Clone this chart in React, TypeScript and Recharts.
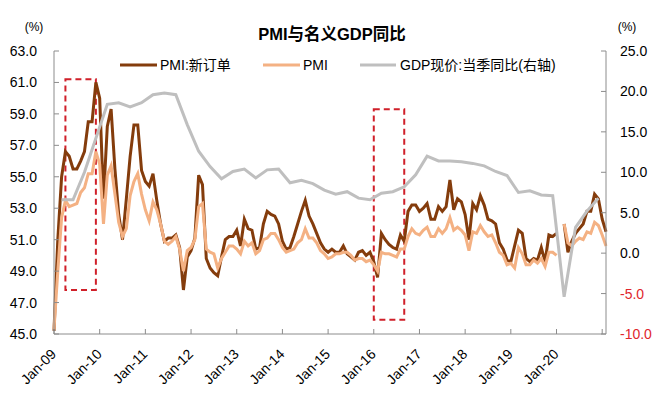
import { LineChart, Line, XAxis, YAxis, ReferenceArea } from "recharts";

const monthNames = ["Jan", "Feb", "Mar", "Apr", "May", "Jun", "Jul", "Aug", "Sep", "Oct", "Nov", "Dec"];
const years = ["09", "10", "11", "12", "13", "14", "15", "16", "17", "18", "19", "20", "21"];
const months: string[] = years.flatMap((y) => monthNames.map((m) => `${m}-${y}`)).slice(0, 146);

// PMI:新订单 (monthly)
const newOrders: (number | null)[] = [
  45.2, 51.0, 55.0, 56.6, 56.3, 55.5, 55.5, 56.0, 56.6, 58.5, 58.5, 61.0,
  60.0, 53.6, 58.2, 59.3, 55.5, 52.6, 51.0, 53.6, 56.3, 58.3, 58.3, 55.4,
  54.7, 54.4, 55.2, 53.5, 52.0, 50.9, 51.1, 51.1, 51.3, 50.5, 47.8, 49.9,
  50.3, 51.1, 55.1, 54.5, 49.8, 49.2, 48.9, 48.7, 49.9, 51.0, 51.2, 51.2,
  51.6, 50.6, 52.3, 51.7, 51.6, 50.4, 50.5, 52.0, 52.8, 52.6, 52.5, 52.0,
  50.9, 50.4, 50.5, 51.2, 52.0, 52.8, 53.5, 52.5, 52.0, 51.4, 50.8, 50.4,
  50.2, 50.4, 50.2, 50.2, 50.6, 50.1, 49.9, 49.7, 50.2, 50.3, 50.0, 50.2,
  49.6, 48.6, 51.4, 51.0, 50.7, 50.5, 50.4, 51.3, 50.9, 52.8, 53.2, 53.2,
  52.8, 53.0, 53.3, 52.3, 52.3, 53.1, 52.8, 53.1, 54.8, 52.9, 53.6, 53.4,
  52.6, 51.0, 53.3, 52.9, 53.8, 53.2, 52.3, 52.2, 52.0, 50.8, 50.4, 49.7,
  49.6, 50.6, 51.6, 51.4, 49.8, 49.6, 49.8, 49.7, 50.5, 49.6, 51.3, 51.2,
  51.4, null, 52.0, 50.2, 50.9, 51.4, 51.7, 52.0, 52.8, 52.8, 53.9, 53.6,
  52.3, 51.5,
];

// PMI (monthly)
const pmi: (number | null)[] = [
  45.3, 49.0, 52.4, 53.5, 53.1, 53.2, 53.3, 54.0, 54.3, 55.2, 55.2, 56.6,
  55.8, 52.0, 55.1, 55.7, 53.9, 52.1, 51.2, 51.7, 53.8, 54.7, 55.2, 53.9,
  52.9, 52.2, 53.4, 52.9, 52.0, 50.9, 50.7, 50.9, 51.2, 50.4, 49.0, 50.3,
  50.5, 51.0, 53.1, 53.3, 50.4, 50.2, 50.1, 49.2, 49.8, 50.2, 50.6, 50.6,
  50.4, 50.1, 50.9, 50.6, 50.8, 50.1, 50.3, 51.0, 51.1, 51.4, 51.4, 51.0,
  50.5, 50.2, 50.3, 50.4, 50.8, 51.0, 51.7, 51.1, 51.1, 50.8, 50.3, 50.1,
  49.8, 49.9, 50.1, 50.1, 50.2, 50.2, 50.0, 49.7, 49.8, 49.8, 49.6, 49.7,
  49.4, 49.0, 50.2, 50.1, 50.1, 50.0, 49.9, 50.4, 50.4, 51.2, 51.7, 51.4,
  51.3, 51.6, 51.8, 51.2, 51.2, 51.7, 51.4, 51.7, 52.4, 51.6, 51.8, 51.6,
  51.3, 50.3, 51.5, 51.4, 51.9, 51.5, 51.2, 51.3, 50.8, 50.2, 50.0, 49.4,
  49.5, 49.2, 50.5, 50.1, 49.4, 49.4, 49.7, 49.5, 49.8, 49.3, 50.2, 50.2,
  50.0, null, 52.0, 50.8, 50.6, 50.9, 51.1, 51.0, 51.5, 51.4, 52.1, 51.9,
  51.3, 50.6,
];

// GDP现价:当季同比, quarterly, Q1-09 .. Q4-20 (plotted at quarter-end month)
const gdpQuarterly = [
  6.6, 6.6, 10.0, 14.2,
  18.4, 18.6, 18.1, 18.6,
  19.6, 19.8, 19.6, 15.9,
  12.6, 10.7, 9.2, 10.1,
  10.4, 9.3, 10.3, 10.4,
  8.7, 9.0, 8.6, 7.8,
  7.3, 7.6, 6.8, 6.6,
  7.4, 7.6, 8.2, 9.7,
  12.0, 11.4, 11.4, 11.3,
  11.1, 10.8, 10.1, 9.6,
  7.5, 7.7, 7.2, 7.1,
  -5.4, 3.2, 5.2, 6.8,
];

const leftTicks = [45, 47, 49, 51, 53, 55, 57, 59, 61, 63];
const rightTicks = [-10, -5, 0, 5, 10, 15, 20, 25];

const data = months.map((month, i) => ({
  month,
  orders: newOrders[i],
  pmi: pmi[i],
  gdp: i % 3 === 2 && gdpQuarterly[(i - 2) / 3] !== undefined ? gdpQuarterly[(i - 2) / 3] : null,
}));

const FONT = '"Liberation Sans", Arial, "Noto Sans CJK SC", sans-serif';
const AXIS = "#8c8c8c";
const BROWN = "#843c0c";
const PALE = "#f4b183";
const GRAY = "#bfbfbf";
const BOX = "#d0202a";

const LeftTick = (props: any) => {
  const { x, y, payload } = props;
  return (
    <g>
      <line x1={x} y1={y} x2={x + 5} y2={y} stroke={AXIS} />
      <text x={x - 17} y={y} dy={5} textAnchor="end" fontSize={14} fontFamily={FONT} fill="#000">
        {Number(payload.value).toFixed(1)}
      </text>
    </g>
  );
};

const RightTick = (props: any) => {
  const { x, y, payload } = props;
  const v = Number(payload.value);
  return (
    <g>
      <line x1={x} y1={y} x2={x - 5} y2={y} stroke={AXIS} />
      <text x={x + 14} y={y} dy={5} textAnchor="start" fontSize={14} fontFamily={FONT} fill={v < 0 ? "#e0262d" : "#000"}>
        {v.toFixed(1)}
      </text>
    </g>
  );
};

const BottomTick = (props: any) => {
  const { x, y, payload } = props;
  return (
    <g>
      <line x1={x} y1={y} x2={x} y2={y - 5} stroke={AXIS} />
      {payload.value !== "Jan-21" && (
        <text transform={`translate(${x + 3},${y + 21}) rotate(-45)`} textAnchor="end" fontSize={14} fontFamily={FONT} fill="#000">
          {payload.value}
        </text>
      )}
    </g>
  );
};

export default function App() {
  return (
    <div style={{ position: "relative", width: 658, height: 406, background: "#fff", fontFamily: FONT }}>
      <style>{"body{margin:0}"}</style>
      <LineChart width={658} height={406} data={data} margin={{ top: 51, right: 0, bottom: 0, left: 0 }}>
        <XAxis
          dataKey="month"
          interval={11}
          height={72}
          tickSize={0}
          tickMargin={0}
          tickLine={false}
          axisLine={{ stroke: AXIS }}
          tick={<BottomTick />}
        />
        <YAxis
          yAxisId="left"
          domain={[45, 63]}
          ticks={leftTicks}
          width={54}
          tickSize={0}
          tickMargin={0}
          tickLine={false}
          axisLine={{ stroke: AXIS }}
          tick={<LeftTick />}
        />
        <YAxis
          yAxisId="right"
          orientation="right"
          domain={[-10, 25]}
          ticks={rightTicks}
          width={52}
          tickSize={0}
          tickMargin={0}
          tickLine={false}
          axisLine={{ stroke: AXIS }}
          tick={<RightTick />}
        />
        <Line yAxisId="left" dataKey="orders" stroke={BROWN} strokeWidth={3} dot={false} isAnimationActive={false} />
        <Line yAxisId="left" dataKey="pmi" stroke={PALE} strokeWidth={3} dot={false} isAnimationActive={false} />
        <Line yAxisId="right" dataKey="gdp" stroke={GRAY} strokeWidth={3} dot={false} connectNulls isAnimationActive={false} />
        <ReferenceArea yAxisId="left" x1="Apr-09" x2="Dec-09" y1={47.8} y2={61.2} fill="none" fillOpacity={0} stroke={BOX} strokeWidth={2} strokeDasharray="6 4" />
        <ReferenceArea yAxisId="left" x1="Jan-16" x2="Sep-16" y1={45.9} y2={59.3} fill="none" fillOpacity={0} stroke={BOX} strokeWidth={2} strokeDasharray="6 4" />
      </LineChart>
      <svg width={658} height={406} style={{ position: "absolute", left: 0, top: 0, pointerEvents: "none" }}>
        <text x={332} y={40} textAnchor="middle" fontSize={16.5} fontWeight="bold" fontFamily={FONT} fill="#000">
          PMI与名义GDP同比
        </text>
        <text x={34} y={31} textAnchor="middle" fontSize={12} fontFamily={FONT} fill="#000">(%)</text>
        <text x={627} y={31} textAnchor="middle" fontSize={12} fontFamily={FONT} fill="#000">(%)</text>
        <line x1={120} y1={65} x2={157} y2={65} stroke={BROWN} strokeWidth={3} />
        <text x={160} y={70} fontSize={14} fontFamily={FONT} fill="#000">PMI:新订单</text>
        <line x1={263} y1={65} x2={300} y2={65} stroke={PALE} strokeWidth={3} />
        <text x={303} y={70} fontSize={14} fontFamily={FONT} fill="#000">PMI</text>
        <line x1={360} y1={65} x2={396} y2={65} stroke={GRAY} strokeWidth={3} />
        <text x={400} y={70} fontSize={14} fontFamily={FONT} fill="#000">GDP现价:当季同比(右轴)</text>
      </svg>
    </div>
  );
}
